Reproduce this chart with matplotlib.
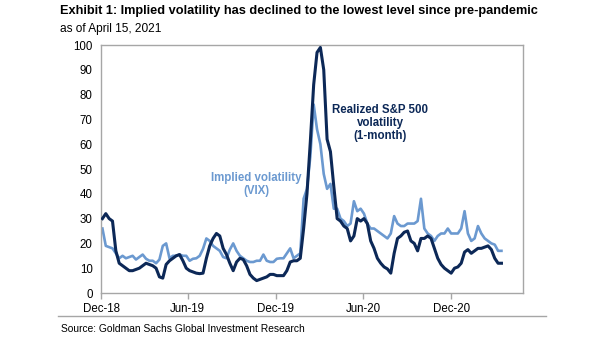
import matplotlib
matplotlib.use("Agg")
import matplotlib.pyplot as plt
import pandas as pd

plt.rcParams["font.family"] = ["Liberation Sans", "DejaVu Sans"]

# Weekly observations (Thursdays), Jan 3 2019 through Apr 15 2021
dates = pd.date_range("2019-01-03", "2021-04-15", freq="W-THU")

realized_vol = [
    30, 32, 30, 29, 17, 12, 11, 10, 9, 9,
    9.5, 10, 11, 12, 11.5, 11, 10, 6.5, 6, 11.5,
    13, 14, 15, 15.5, 13, 10, 9, 8.5, 8, 7.8,
    8, 14, 19, 22, 24, 23, 18, 15.5, 12, 9,
    12.5, 14, 13.5, 11, 7.5, 6, 5, 5.5, 6, 6.5,
    7.5, 7.5, 7, 7, 7, 9, 12.5, 13, 13, 14,
    26, 40, 61, 84, 97, 99, 90, 62, 57, 43,
    30, 29, 27, 26, 21, 23, 30, 29, 30, 28,
    21, 18, 14, 12, 10.5, 9.7, 8, 16, 22, 23,
    24.5, 25, 21, 20, 17, 22, 22, 23, 22, 18,
    14, 11.5, 10, 9, 8, 10, 10.5, 12, 16.5, 17.5,
    16, 17, 18, 18, 18.5, 19, 17.5, 14, 12, 12,
]

implied_vol = [
    26, 19, 18.5, 18, 16, 14, 15, 14, 14.5, 15,
    13.5, 14.5, 15.5, 13.8, 13, 13, 12, 13.5, 19, 20,
    14, 15, 15, 15.5, 15, 15, 13, 13.8, 14, 15,
    17.8, 22, 21, 19, 18, 17, 14.5, 14, 17.5, 20,
    17, 15, 14, 13, 12.5, 12.5, 13, 13, 15.5, 13,
    12.5, 12.5, 13.8, 14, 14, 16, 18, 14, 15, 16,
    38, 42, 55, 76, 66, 60, 48, 42, 44, 34,
    34, 30, 29, 27, 28, 37, 33, 34, 32, 28,
    26, 26, 25, 24, 23, 22, 24, 31, 28, 27,
    27, 28, 28, 28, 29, 38, 26, 24, 23, 21,
    23, 24, 24, 26, 24, 24, 24, 26, 33, 24,
    21, 22, 27, 24, 22, 21, 20, 19.5, 17, 17,
]

tick_dates = pd.to_datetime(["2018-12-31", "2019-06-30", "2019-12-31",
                             "2020-06-30", "2020-12-31"])
tick_labels = ["Dec-18", "Jun-19", "Dec-19", "Jun-20", "Dec-20"]
y_ticks = list(range(0, 101, 10))

title = "Exhibit 1: Implied volatility has declined to the lowest level since pre-pandemic"
subtitle = "as of April 15, 2021"
source = "Source: Goldman Sachs Global Investment Research"

navy = "#0c2857"
light_blue = "#6b99d0"
frame = "#a6a6a6"

fig = plt.figure(figsize=(6.05, 3.41), dpi=100)
ax = fig.add_axes([101 / 605, 1 - 293 / 341, 422 / 605, 248 / 341])

ax.plot(dates, implied_vol, color=light_blue, lw=1.9, solid_joinstyle="round", zorder=2)
ax.plot(dates, realized_vol, color=navy, lw=2.2, solid_joinstyle="round", zorder=3)

ax.set_xlim(pd.Timestamp("2018-12-31"), pd.Timestamp("2021-05-30"))
ax.set_ylim(0, 100)
ax.set_yticks(y_ticks)
ax.set_xticks(tick_dates)
ax.set_xticklabels(tick_labels)

for sp in ax.spines.values():
    sp.set_color(frame)
    sp.set_linewidth(1.0)

ax.tick_params(axis="y", length=0, pad=6, labelsize=8.3, labelcolor="black")
ax.tick_params(axis="x", length=4, width=1.0, color=frame, direction="out",
               pad=3, labelsize=8.3, labelcolor="black")

ax.text(pd.Timestamp("2020-08-05"), 68.5, "Realized S&P 500\nvolatility\n(1-month)",
        color=navy, fontsize=8.3, fontweight="bold", ha="center", va="center",
        linespacing=1.15)
ax.text(pd.Timestamp("2019-11-21"), 43.7, "Implied volatility\n(VIX)",
        color=light_blue, fontsize=8.3, fontweight="bold", ha="center", va="center",
        linespacing=1.15)

fig.text(60 / 605, 1 - 11 / 341, title, fontsize=9.2, fontweight="bold",
         ha="left", va="center")
fig.text(60 / 605, 1 - 29 / 341, subtitle, fontsize=8.6, ha="left", va="center")
fig.text(61 / 605, 1 - 329 / 341, source, fontsize=7.4, ha="left", va="center")
fig.add_artist(plt.Line2D([58 / 605, 546 / 605], [1 - 316 / 341, 1 - 316 / 341],
                          color=frame, lw=1.0, transform=fig.transFigure))

fig.savefig("out.png", dpi=100)
